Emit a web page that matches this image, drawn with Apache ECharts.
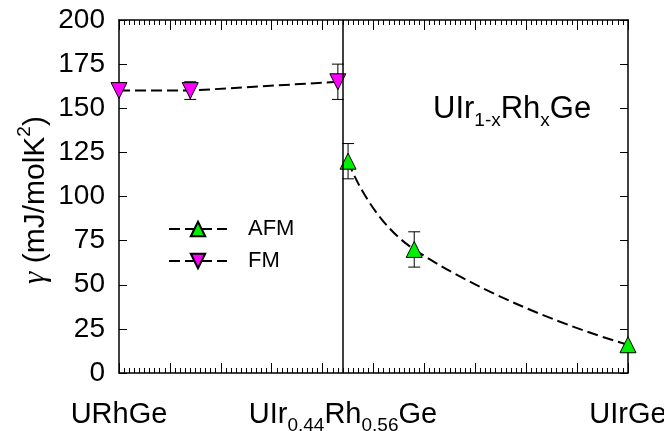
<!DOCTYPE html>
<html>
<head>
<meta charset="utf-8">
<script src="https://cdn.jsdelivr.net/npm/echarts@6/dist/echarts.min.js"></script>
<style>
  html, body { margin: 0; padding: 0; background: #fff; }
  #chart { width: 664px; height: 431px; }
</style>
</head>
<body>
<div id="chart"></div>
<script>
// compounds along the x axis (Ir content, 0 = URhGe, 1 = UIrGe)
const compoundLabels = ["URhGe", "UIr{s|0.44}Rh{s|0.56}Ge", "UIrGe"];
const compoundX = [0, 0.44, 1];
const boundaryX = 0.44;

// FM branch
const fmX = [0, 0.14, 0.43];
const fmGamma = [160, 160, 165];
const fmErr = [0, 5, 10];

// AFM branch
const afmX = [0.45, 0.58, 1];
const afmGamma = [120, 70, 16];
const afmErr = [10, 10, 0];

const FONT = "Liberation Sans, Arial, sans-serif";

function zip(xs, ys) {
  return xs.map((x, i) => [x, ys[i]]);
}

function errorBars(name, xs, ys, errs) {
  const data = [];
  xs.forEach((x, i) => {
    if (errs[i] > 0) data.push([x, ys[i] - errs[i], ys[i] + errs[i]]);
  });
  return {
    name: name + "-err",
    type: "custom",
    data: data,
    z: 1,
    silent: true,
    renderItem: function (params, api) {
      const lo = api.coord([api.value(0), api.value(1)]);
      const hi = api.coord([api.value(0), api.value(2)]);
      const w = 6;
      const st = { stroke: "#000", lineWidth: 1 };
      return {
        type: "group",
        children: [
          { type: "line", shape: { x1: lo[0], y1: lo[1], x2: hi[0], y2: hi[1] }, style: st },
          { type: "line", shape: { x1: lo[0] - w, y1: lo[1], x2: lo[0] + w, y2: lo[1] }, style: st },
          { type: "line", shape: { x1: hi[0] - w, y1: hi[1], x2: hi[0] + w, y2: hi[1] }, style: st },
        ],
      };
    },
  };
}

const chart = echarts.init(document.getElementById("chart"));

// onZero off, otherwise the top/right axes jump onto the zero lines
const axisLine = { show: true, onZero: false, lineStyle: { color: "#000", width: 1.5 } };
// subscript: smaller text pushed down by a top padding
const subRich = {
  s: { fontSize: 19, lineHeight: 20, fontFamily: FONT, color: "#000", padding: [22, 0, 0, 0] },
};

function xAxisOf(pos, label) {
  return {
    type: "value",
    position: pos,
    min: 0,
    max: 1,
    interval: 0.1,
    axisLine: axisLine,
    axisTick: { show: true, inside: true, length: 10, lineStyle: { color: "#000", width: 1 } },
    minorTick: { show: true, splitNumber: 10, length: 5, lineStyle: { color: "#000", width: 1 } },
    splitLine: { show: false },
    minorSplitLine: { show: false },
    axisLabel: label,
  };
}

function yAxisOf(pos, label) {
  return {
    type: "value",
    position: pos,
    min: 0,
    max: 200,
    interval: 25,
    axisLine: axisLine,
    axisTick: { show: true, inside: true, length: 8, lineStyle: { color: "#000", width: 1 } },
    splitLine: { show: false },
    axisLabel: label,
  };
}

const option = {
  backgroundColor: "#fff",
  animation: false,
  grid: { left: 119, right: 36, top: 20, bottom: 58, outerBoundsMode: "none", containLabel: false },
  title: {
    text: "UIr{s|1-x}Rh{s|x}Ge",
    left: 428,
    top: 89,
    textStyle: {
      fontSize: 31,
      fontWeight: "normal",
      fontFamily: FONT,
      color: "#000",
      rich: subRich,
    },
  },
  legend: {
    orient: "vertical",
    left: 163,
    top: 213,
    itemWidth: 58,
    itemHeight: 18,
    itemGap: 10,
    data: ["AFM", "FM"],
    textStyle: { fontSize: 22, fontFamily: FONT, color: "#000", padding: [0, 0, 0, 16] },
  },
  xAxis: [
    xAxisOf("bottom", {
      show: true,
      customValues: compoundX,
      margin: 20,
      fontSize: 29,
      lineHeight: 44,
      fontFamily: FONT,
      color: "#000",
      rich: subRich,
      formatter: function (v) {
        const i = compoundX.findIndex((c) => Math.abs(c - v) < 1e-6);
        return i >= 0 ? compoundLabels[i] : "";
      },
    }),
    xAxisOf("top", { show: false }),
  ],
  yAxis: [
    yAxisOf("left", { show: true, margin: 14, fontSize: 28, fontFamily: FONT, color: "#000" }),
    yAxisOf("right", { show: false }),
  ],
  graphic: [
    {
      type: "text",
      x: 36,
      y: 200,
      rotation: Math.PI / 2,
      style: {
        text: "{g|γ} (mJ/molK{p|2})",
        align: "center",
        verticalAlign: "middle",
        fontSize: 30,
        fontFamily: FONT,
        fill: "#000",
        rich: {
          g: { fontSize: 31, fontFamily: "Liberation Serif, Times New Roman, serif", fontStyle: "italic", fill: "#000" },
          p: { fontSize: 19, fontFamily: FONT, fill: "#000", padding: [0, 0, 22, 0] },
        },
      },
    },
  ],
  series: [
    errorBars("FM", fmX, fmGamma, fmErr),
    errorBars("AFM", afmX, afmGamma, afmErr),
    {
      name: "AFM",
      type: "line",
      data: zip(afmX, afmGamma),
      smooth: 0.5,
      symbol: "triangle",
      symbolSize: 16,
      itemStyle: { color: "#00ee00", borderColor: "#000", borderWidth: 1 },
      lineStyle: { color: "#000", width: 2, type: [11, 5] },
      z: 3,
    },
    {
      name: "FM",
      type: "line",
      data: zip(fmX, fmGamma),
      symbol: "triangle",
      symbolRotate: 180,
      symbolSize: 16,
      itemStyle: { color: "#ff00ff", borderColor: "#000", borderWidth: 1 },
      lineStyle: { color: "#000", width: 2, type: [11, 5] },
      z: 3,
      markLine: {
        silent: true,
        symbol: "none",
        label: { show: false },
        lineStyle: { color: "#000", width: 1.5, type: "solid" },
        data: [{ xAxis: boundaryX }],
      },
    },
  ],
};

chart.setOption(option);
</script>
</body>
</html>
